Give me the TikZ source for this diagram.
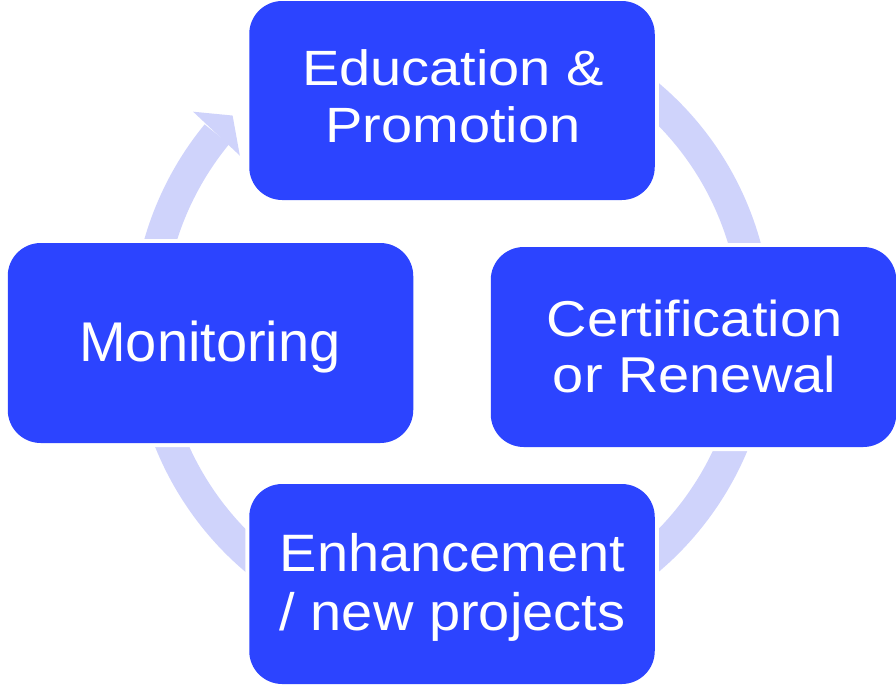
\documentclass[tikz,border=0pt]{standalone}
\usepackage{fontspec}
\usepackage{graphicx}
\setmainfont{Liberation Sans}
\definecolor{boxblue}{RGB}{44,68,255}
\definecolor{ringblue}{RGB}{207,211,251}
\newcommand\vsq[2]{\scalebox{1}[#1]{#2}}
\begin{document}
\begin{tikzpicture}[x=1pt,y=1pt,
  stepbox/.style={rectangle, rounded corners=33pt, fill=boxblue,
    preaction={draw=white, line width=8pt},
    minimum width=405.5pt, minimum height=200pt, inner sep=0pt, outer sep=0pt},
  lbl/.style={text=white, align=center, inner sep=0pt, outer sep=0pt},
  ring/.style={draw=ringblue, line width=31.5pt}]
\useasboundingbox (0,0) rectangle (896,-686);
\coordinate (c) at (452,-327.4);
% cycle band with arrow head
\draw[ring] ([shift={(55:304.3pt)}]c) arc[start angle=55, end angle=-219.4, radius=304.3pt];
\fill[ringblue] ([shift={(140.2:337pt)}]c) coordinate (hb1)
  -- ([shift={(136:305pt)}]c) coordinate (ht)
  -- ([shift={(141:273pt)}]c) coordinate (hb2) -- cycle;
% boxes
\node[stepbox, minimum height=199pt] (edu) at (452,-100.5) {};
\node[stepbox] (cert) at (693.5,-347) {};
\node[stepbox] (enh) at (452,-584) {};
\node[stepbox] (mon) at (210.5,-343) {};
% labels
\node[lbl, font=\fontsize{56}{57.3}\selectfont] (edu-t) at (453,-96.5)
  {\vsq{0.885}{Education \&}\\\vsq{0.885}{Promotion}};
\node[lbl, font=\fontsize{56}{56}\selectfont] (cert-t) at (694.5,-346.5)
  {\vsq{0.9}{Certification}\\\vsq{0.9}{or Renewal}};
\node[lbl, font=\fontsize{56}{58.3}\selectfont] (enh-t) at (452.5,-587.5)
  {\vsq{0.94}{Enhancement}\\\vsq{0.94}{/ new projects}};
\node[lbl, font=\fontsize{56}{57}\selectfont] (mon-t) at (210,-346.8)
  {Monitoring};
\end{tikzpicture}
\end{document}
